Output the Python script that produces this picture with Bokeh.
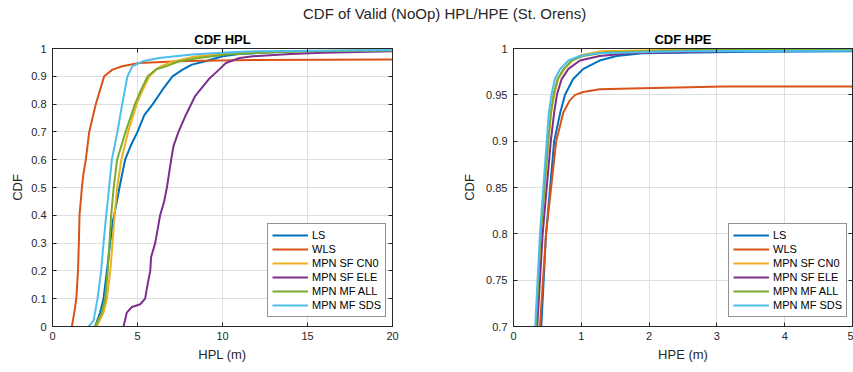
from bokeh.plotting import figure
from bokeh.models import (Range1d, FixedTicker, CustomJSTickFormatter, LinearAxis, Div)
from bokeh.layouts import column, row
from bokeh.embed import file_html
from bokeh.resources import INLINE

SUPTITLE = "CDF of Valid (NoOp) HPL/HPE (St. Orens)"
SERIES = ["LS", "WLS", "MPN SF CN0", "MPN SF ELE", "MPN MF ALL", "MPN MF SDS"]
COLORS = ["#0072BD", "#D95319", "#EDB120", "#7E2F8E", "#77AC30", "#4DBEEE"]

# ---- HPL CDF (x in m, cdf) ----
hpl_ls_x = [2.5, 2.8, 3.0, 3.2, 3.39, 3.55, 3.63, 3.94, 4.27, 4.6, 5.0, 5.4, 5.9, 6.45, 7.06, 7.65, 8.2, 9.0, 10.0, 11.0, 14.0, 20.0]
hpl_ls_cdf = [0.0, 0.05, 0.1, 0.2, 0.3, 0.38, 0.4, 0.5, 0.6, 0.65, 0.7, 0.76, 0.8, 0.85, 0.9, 0.924, 0.942, 0.954, 0.972, 0.98, 0.99, 0.993]

hpl_wls_x = [1.14, 1.3, 1.4, 1.5, 1.55, 1.59, 1.66, 1.73, 1.82, 1.96, 2.16, 2.39, 2.55, 3.04, 3.53, 4.1, 5.1, 7.8, 11.8, 20.0]
hpl_wls_cdf = [0.0, 0.057, 0.1, 0.2, 0.3, 0.4, 0.45, 0.5, 0.55, 0.6, 0.7, 0.76, 0.8, 0.9, 0.924, 0.936, 0.948, 0.955, 0.959, 0.96]

hpl_cn0_x = [2.6, 3.0, 3.2, 3.4, 3.53, 3.65, 3.8, 4.05, 4.45, 4.95, 5.3, 5.7, 6.2, 6.9, 8.3, 10.0, 14.0, 20.0]
hpl_cn0_cdf = [0.0, 0.05, 0.1, 0.2, 0.3, 0.4, 0.5, 0.6, 0.7, 0.8, 0.85, 0.9, 0.93, 0.95, 0.97, 0.98, 0.99, 0.995]

hpl_ele_x = [4.18, 4.37, 4.67, 5.16, 5.45, 5.59, 5.75, 5.8, 6.04, 6.33, 6.57, 6.73, 6.98, 7.12, 7.41, 7.84, 8.4, 9.2, 9.8, 10.2, 11.0, 11.8, 14.0, 15.9, 20.0]
hpl_ele_cdf = [0.0, 0.05, 0.07, 0.08, 0.1, 0.15, 0.2, 0.25, 0.3, 0.4, 0.45, 0.5, 0.6, 0.65, 0.7, 0.76, 0.83, 0.89, 0.924, 0.948, 0.966, 0.972, 0.98, 0.985, 0.99]

hpl_all_x = [2.5, 2.9, 3.1, 3.25, 3.35, 3.45, 3.6, 3.8, 4.3, 4.85, 5.2, 5.6, 6.1, 6.67, 7.45, 8.6, 10.2, 11.8, 15.0, 20.0]
hpl_all_cdf = [0.0, 0.05, 0.1, 0.2, 0.3, 0.4, 0.5, 0.6, 0.7, 0.8, 0.85, 0.9, 0.925, 0.936, 0.954, 0.966, 0.978, 0.984, 0.99, 0.993]

hpl_sds_x = [2.12, 2.41, 2.5, 2.65, 2.86, 3.0, 3.16, 3.33, 3.49, 3.82, 4.1, 4.41, 4.7, 5.3, 6.27, 8.2, 10.2, 12.0, 20.0]
hpl_sds_cdf = [0.0, 0.02, 0.05, 0.1, 0.2, 0.3, 0.4, 0.5, 0.6, 0.7, 0.8, 0.9, 0.936, 0.954, 0.966, 0.978, 0.986, 0.99, 0.995]

# ---- HPE CDF (x in m, cdf) ----
hpe_ls_x = [0.36, 0.41, 0.48, 0.6, 0.69, 0.76, 0.88, 1.03, 1.27, 1.52, 1.9, 3.5, 5.0]
hpe_ls_cdf = [0.6, 0.7, 0.8, 0.9, 0.931, 0.95, 0.967, 0.978, 0.987, 0.992, 0.995, 0.9965, 0.997]

hpe_wls_x = [0.34, 0.39, 0.48, 0.63, 0.735, 0.83, 0.91, 1.03, 1.27, 1.9, 3.1, 5.0]
hpe_wls_cdf = [0.6, 0.7, 0.8, 0.9, 0.931, 0.944, 0.95, 0.953, 0.956, 0.957, 0.959, 0.959]

hpe_cn0_x = [0.28, 0.335, 0.405, 0.515, 0.555, 0.6, 0.66, 0.75, 0.87, 1.0, 1.3, 3.0, 5.0]
hpe_cn0_cdf = [0.6, 0.7, 0.8, 0.9, 0.93, 0.95, 0.967, 0.978, 0.987, 0.993, 0.997, 0.9995, 1.0]

hpe_ele_x = [0.3, 0.35, 0.43, 0.55, 0.6, 0.64, 0.71, 0.81, 0.98, 1.27, 1.7, 3.5, 5.0]
hpe_ele_cdf = [0.6, 0.7, 0.8, 0.9, 0.931, 0.95, 0.967, 0.978, 0.987, 0.992, 0.995, 0.9975, 0.998]

hpe_all_x = [0.28, 0.33, 0.4, 0.51, 0.55, 0.59, 0.65, 0.74, 0.86, 1.03, 1.37, 3.0, 5.0]
hpe_all_cdf = [0.6, 0.7, 0.8, 0.9, 0.93, 0.95, 0.967, 0.978, 0.987, 0.992, 0.996, 0.999, 0.9995]

hpe_sds_x = [0.27, 0.32, 0.39, 0.49, 0.52, 0.56, 0.61, 0.69, 0.81, 0.98, 1.23, 2.5, 5.0]
hpe_sds_cdf = [0.6, 0.7, 0.8, 0.9, 0.93, 0.95, 0.967, 0.978, 0.987, 0.992, 0.995, 0.997, 0.9975]

hpl_xticks = [0, 5, 10, 15, 20]
hpl_yticks = [0, 0.1, 0.2, 0.3, 0.4, 0.5, 0.6, 0.7, 0.8, 0.9, 1.0]
hpe_xticks = [0, 1, 2, 3, 4, 5]
hpe_yticks = [0.7, 0.75, 0.8, 0.85, 0.9, 0.95, 1.0]

FONT = "Liberation Sans"
AX = "#262626"
fmt_code = "return String(Math.round(tick*100)/100);"


def make_panel(title, xlabel, xr, yr, xticks, yticks, series, width, mb_left, mb_right, ylab_standoff):
    p = figure(width=width, height=344, x_range=Range1d(*xr), y_range=Range1d(*yr),
               output_backend="svg", toolbar_location=None,
               min_border_left=mb_left, min_border_right=mb_right,
               min_border_top=19, min_border_bottom=46)
    p.title.text = title
    p.title.align = "center"
    p.title.text_font = FONT
    p.title.text_font_size = "13px"
    p.title.text_font_style = "bold"
    p.title.text_color = "#000000"
    p.title.standoff = 3
    p.outline_line_color = AX
    p.outline_line_alpha = 1
    p.background_fill_color = "white"
    p.border_fill_color = "white"

    for ax, ticks in ((p.xaxis[0], xticks), (p.yaxis[0], yticks)):
        ax.ticker = FixedTicker(ticks=ticks)
        ax.formatter = CustomJSTickFormatter(code=fmt_code)
        ax.minor_tick_line_color = None
        ax.major_tick_in = 4
        ax.major_tick_out = 0
        ax.axis_line_color = AX
        ax.major_tick_line_color = AX
        ax.major_label_text_font = FONT
        ax.major_label_text_font_size = "11px"
        ax.major_label_text_color = AX
        ax.axis_label_text_font = FONT
        ax.axis_label_text_font_size = "13px"
        ax.axis_label_text_font_style = "normal"
        ax.axis_label_text_color = AX
    p.xaxis[0].axis_label = xlabel
    p.yaxis[0].axis_label = "CDF"
    p.xaxis[0].major_label_standoff = 5
    p.xaxis[0].axis_label_standoff = 4
    p.yaxis[0].major_label_standoff = 6
    p.yaxis[0].axis_label_standoff = ylab_standoff

    for loc, ticks in (("above", xticks), ("right", yticks)):
        a = LinearAxis(ticker=FixedTicker(ticks=ticks))
        a.major_label_text_font_size = "1px"
        a.major_label_text_color = None
        a.major_label_standoff = 0
        a.major_tick_in = 4
        a.major_tick_out = 0
        a.minor_tick_line_color = None
        a.axis_line_color = AX
        a.major_tick_line_color = AX
        p.add_layout(a, loc)

    p.xgrid.ticker = FixedTicker(ticks=xticks)
    p.ygrid.ticker = FixedTicker(ticks=yticks)
    p.grid.grid_line_color = "#dfdfdf"
    p.grid.grid_line_width = 1

    for name, color, (xs, ys) in zip(SERIES, COLORS, series):
        p.line(xs, ys, line_color=color, line_width=2, legend_label=name,
               line_join="round")

    lg = p.legend[0]
    lg.location = (215, 9)
    lg.label_text_font = FONT
    lg.label_text_font_size = "11px"
    lg.label_text_color = "#000000"
    lg.border_line_color = AX
    lg.border_line_width = 1
    lg.background_fill_color = "white"
    lg.background_fill_alpha = 1
    lg.padding = 4
    lg.spacing = 0
    lg.margin = 0
    lg.glyph_width = 36
    lg.glyph_height = 14
    lg.label_height = 14
    lg.label_standoff = 4
    return p


p1 = make_panel("CDF HPL", "HPL (m)", (0, 20), (0, 1), hpl_xticks, hpl_yticks,
                [(hpl_ls_x, hpl_ls_cdf), (hpl_wls_x, hpl_wls_cdf), (hpl_cn0_x, hpl_cn0_cdf),
                 (hpl_ele_x, hpl_ele_cdf), (hpl_all_x, hpl_all_cdf), (hpl_sds_x, hpl_sds_cdf)],
                453, 52, 61, 3)
p2 = make_panel("CDF HPE", "HPE (m)", (0, 5), (0.7, 1), hpe_xticks, hpe_yticks,
                [(hpe_ls_x, hpe_ls_cdf), (hpe_wls_x, hpe_wls_cdf), (hpe_cn0_x, hpe_cn0_cdf),
                 (hpe_ele_x, hpe_ele_cdf), (hpe_all_x, hpe_all_cdf), (hpe_sds_x, hpe_sds_cdf)],
                400, 60, 1, 6)

head = Div(text=("<div style=\"font-family:'Liberation Sans',Arial,sans-serif;font-size:15px;"
                 "color:#262626;white-space:nowrap;padding-left:303px;line-height:28px;\">"
                 + SUPTITLE + "</div>"), width=853, height=28, margin=0)

layout = column(head, row(p1, p2, spacing=0), spacing=0)
open("out.html", "w").write(file_html(layout, INLINE))
